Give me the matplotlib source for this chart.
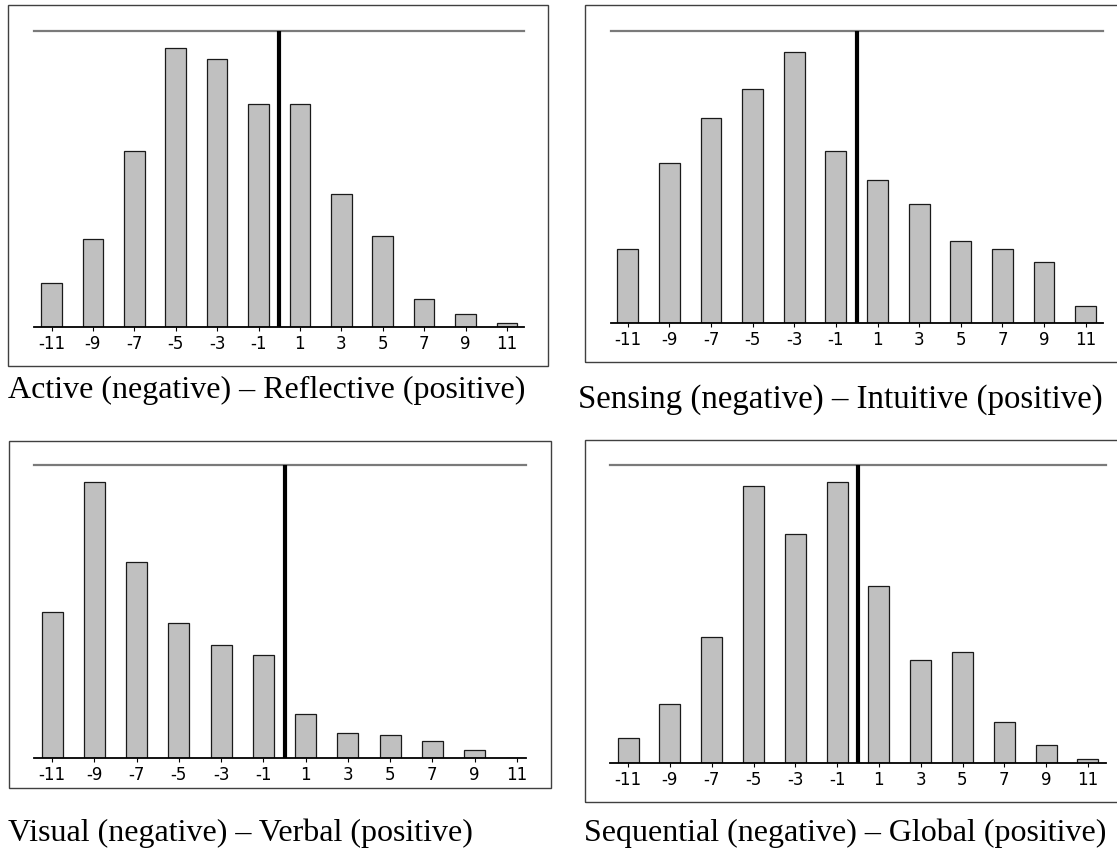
import matplotlib.pyplot as plt
from matplotlib.patches import Rectangle

# Learning-style score bins (odd values only)
scores = [-11, -9, -7, -5, -3, -1, 1, 3, 5, 7, 9, 11]

# Bar heights (top reference line = 100)
active_reflective = [15.0, 29.7, 59.3, 94.4, 90.5, 75.5, 75.5, 44.8, 30.9, 9.6, 4.3, 1.5]
sensing_intuitive = [25.2, 54.8, 70.1, 79.9, 92.7, 59.0, 49.0, 40.8, 28.1, 25.2, 21.0, 5.7]
visual_verbal = [50.0, 94.2, 66.9, 46.2, 38.5, 35.1, 14.9, 8.7, 7.7, 5.7, 2.8, 0.0]
sequential_global = [8.5, 19.7, 42.2, 92.9, 77.0, 94.3, 59.6, 34.7, 37.2, 13.7, 6.0, 1.2]

captions = [
    'Active (negative) \u2013 Reflective (positive)',
    'Sensing (negative) \u2013 Intuitive (positive)',
    'Visual (negative) \u2013 Verbal (positive)',
    'Sequential (negative) \u2013 Global (positive)',
]

W, H = 1117, 858
fig = plt.figure(figsize=(W / 100, H / 100), dpi=100)


def fx(px):
    return px / W


def fy(py):
    return 1 - py / H


# panel layout in pixels: centre of x=0, pixels per unit, top line y, baseline y, xlim,
# frame box (x0, y0, x1, y1), caption (x, baseline y, size)
panels = [
    dict(data=active_reflective, cx=279.2, unit=20.7, top=31, base=327, xlim=(-11.83, 11.83),
         box=(8, 5, 548, 366), cap=(8, 398, 23)),
    dict(data=sensing_intuitive, cx=856.7, unit=20.82, top=30.7, base=323, xlim=(-11.82, 11.83),
         box=(585, 5, 1130, 362), cap=(578, 408, 23.7)),
    dict(data=visual_verbal, cx=284.5, unit=21.12, top=465.3, base=758, xlim=(-11.85, 11.43),
         box=(9, 441, 551, 788), cap=(8, 841, 23)),
    dict(data=sequential_global, cx=858, unit=20.9, top=465.3, base=763, xlim=(-11.85, 11.85),
         box=(585, 440, 1130, 802), cap=(584, 841, 23)),
]

for p, caption in zip(panels, captions):
    # outer frame
    bx0, by0, bx1, by1 = p['box']
    fig.patches.append(Rectangle((fx(bx0), fy(by1)), fx(bx1 - bx0), (by1 - by0) / H,
                                 transform=fig.transFigure, fill=False,
                                 edgecolor='#404040', linewidth=1.0))

    left = p['cx'] + p['xlim'][0] * p['unit']
    right = p['cx'] + p['xlim'][1] * p['unit']
    ax = fig.add_axes([fx(left), fy(p['base']), fx(right - left), (p['base'] - p['top']) / H])
    ax.bar(scores, p['data'], width=1.0, color='#c0c0c0', edgecolor='#1a1a1a', linewidth=0.9,
           zorder=2)
    ax.set_xlim(*p['xlim'])
    ax.set_ylim(0, 100)

    # reference lines
    ax.axhline(100, color='#7a7a7a', linewidth=1.6, clip_on=False, zorder=3)
    ax.plot([0, 0], [0, 100], color='black', linewidth=3.0, clip_on=False, zorder=4,
            solid_capstyle='butt')

    for side in ['top', 'left', 'right']:
        ax.spines[side].set_visible(False)
    ax.spines['bottom'].set_linewidth(1.3)
    ax.spines['bottom'].set_color('black')
    ax.set_yticks([])
    ax.set_xticks(scores)
    ax.set_xticklabels([str(s) for s in scores])
    ax.tick_params(axis='x', direction='out', length=3, width=0.8, pad=2.5,
                   labelsize=12, colors='black')

    cx, cy, csize = p['cap']
    fig.text(fx(cx), fy(cy), caption, family='Liberation Serif',
             fontsize=csize, ha='left', va='baseline')

fig.savefig('out.png', dpi=100)
